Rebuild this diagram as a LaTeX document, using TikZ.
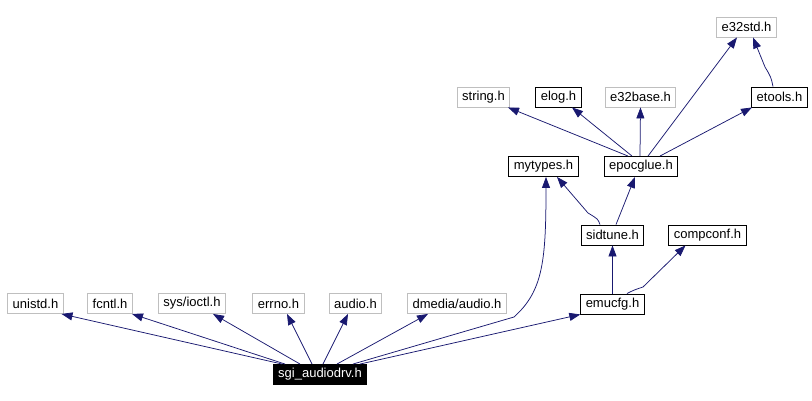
\documentclass[tikz,border=0pt]{standalone}
\usepackage{fontspec}
\setmainfont{Liberation Sans}
\usepackage{tikz}
\usepackage{xcolor}
\usetikzlibrary{arrows.meta, positioning, calc}
\definecolor{cEdge}{RGB}{25,25,112}
\definecolor{cGrey}{RGB}{191,191,191}
\tikzset{
	hdr/.style     ={rectangle, draw=black, line width=0.9pt, minimum height=20pt, inner xsep=5pt, inner ysep=0pt, fill=white, font=\fontsize{13}{15}\selectfont},
	exthdr/.style  ={hdr, draw=cGrey},
	roothdr/.style ={hdr, fill=black, text=white},
	dep/.style     ={{Triangle[length=11pt, width=8pt]}-, draw=cEdge, fill=none, line width=0.75pt},
}
\begin{document}
\begin{tikzpicture}[x=1pt, y=1pt]
	\useasboundingbox (0,0) rectangle (812,401);
	% include graph nodes
	\node[roothdr] (sgi) at (320,26.5) {sgi\_audiodrv.h};
	\node[exthdr] (unistd) at (35.5,97.5) {unistd.h};
	\node[exthdr] (fcntl) at (110,97.5) {fcntl.h};
	\node[exthdr] (ioctl) at (192,97.5) {sys/ioctl.h};
	\node[exthdr] (errno) at (278.5,97.5) {errno.h};
	\node[exthdr] (audio) at (355.5,97.5) {audio.h};
	\node[exthdr] (dmedia) at (457,97.5) {dmedia/audio.h};
	\node[hdr] (emucfg) at (612.5,97) {emucfg.h};
	\node[hdr] (sidtune) at (612.5,166) {sidtune.h};
	\node[hdr] (compconf) at (707.5,166) {compconf.h};
	\node[hdr] (mytypes) at (543.5,234.5) {mytypes.h};
	\node[hdr] (epocglue) at (641,234.5) {epocglue.h};
	\node[exthdr] (string) at (483.5,304) {string.h};
	\node[hdr] (elog) at (558.5,304) {elog.h};
	\node[exthdr] (e32base) at (640.5,304) {e32base.h};
	\node[hdr] (etools) at (779.5,304) {etools.h};
	\node[exthdr] (e32std) at (746.5,374) {e32std.h};
	% edges from sgi_audiodrv.h
	\draw[dep] ([xshift=26pt]unistd.south) -- ([xshift=-38pt]sgi.north);
	\draw[dep] ([xshift=22pt]fcntl.south) -- ([xshift=-35pt]sgi.north);
	\draw[dep] ([xshift=21pt]ioctl.south) -- ([xshift=-20pt]sgi.north);
	\draw[dep] ([xshift=8.5pt]errno.south) -- ([xshift=-8pt]sgi.north);
	\draw[dep] ([xshift=-7.5pt]audio.south) -- ([xshift=3pt]sgi.north);
	\draw[dep] ([xshift=-29pt]dmedia.south) -- ([xshift=17pt]sgi.north);
	\draw[dep] ([xshift=2.5pt]mytypes.south) .. controls (546,140) and (543,110) .. (514,84) -- ([xshift=33pt]sgi.north);
	\draw[dep] (emucfg.south west) -- ([xshift=40pt]sgi.north);
	% emucfg.h
	\draw[dep] (sidtune.south) -- (emucfg.north);
	\draw[dep] ([xshift=-22pt]compconf.south) -- (643,114) .. controls (634,111) .. ([xshift=14.5pt]emucfg.north);
	% sidtune.h
	\draw[dep] ([xshift=13.5pt]mytypes.south) -- (588,188) .. controls (598,182) .. ([xshift=-12.5pt]sidtune.north);
	\draw[dep] ([xshift=-6pt]epocglue.south) -- ([xshift=3.5pt]sidtune.north);
	% epocglue.h
	\draw[dep] ([xshift=24.5pt]string.south) -- ([xshift=-13pt]epocglue.north);
	\draw[dep] ([xshift=13.5pt]elog.south) -- ([xshift=-9pt]epocglue.north);
	\draw[dep] (e32base.south) -- ([xshift=-1pt]epocglue.north);
	\draw[dep] ([xshift=-9.5pt]e32std.south) -- ([xshift=7pt]epocglue.north);
	\draw[dep] ([xshift=-27.5pt]etools.south) -- ([xshift=19pt]epocglue.north);
	% etools.h
	\draw[dep] ([xshift=6.5pt]e32std.south) -- (765,334) .. controls (771,324) .. ([xshift=-6.5pt]etools.north);
\end{tikzpicture}
\end{document}
